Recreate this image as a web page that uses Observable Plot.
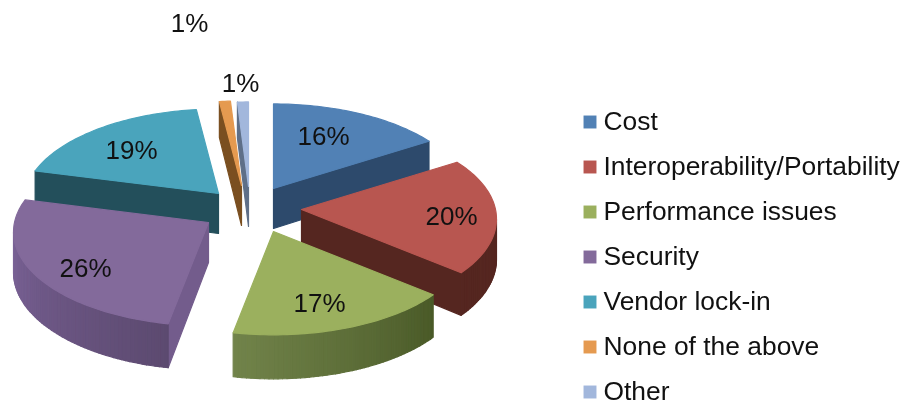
<!DOCTYPE html>
<html><head><meta charset="utf-8">
<style>html,body{margin:0;padding:0;background:#fff}svg{display:block;filter:blur(.6px)}</style>
<script src="https://cdn.jsdelivr.net/npm/d3@7"></script>
<script src="https://cdn.jsdelivr.net/npm/@observablehq/plot@0.6"></script>
</head><body><div id="chart"></div>
<script>
// data
const categories = ["Cost","Interoperability/Portability","Performance issues","Security","Vendor lock-in","None of the above","Other"];
const values = [16,20,17,26,19,1,1];
// styles
const topColors  = ["#5181b5","#b85650","#9bb05e","#836a9b","#4aa4bc","#e59a50","#a2b7dc"];
const wallStart  = ["#2d4a6c","#552620","#4a5a28","#5c4a70","#234f5b","#7a4f20","#5e6f88"];
const wallEnd    = ["#2d4a6c","#552620","#71834a","#7a6296","#234f5b","#7a4f20","#5e6f88"];
const cutColors  = ["#2d4a6c","#552620","#4a5a28","#735c8c","#234f5b","#7a4f20","#5e6f88"];
// layout: exploded tip of each slice, drawing order, label shifts from the tip
const tipX = [273,301,273,208,218,241,248];
const tipY = [188,209,231,222,193,185,186];
const paintOrder = [5,6,0,4,1,3,2];
const labelDX = [50,150,46,-123,-87,-52,-8];
const labelDY = [-52,7,72,46,-43,-162,-103];
const rx = 194, ry = 93, persp = 0.1, depth = 40;
const legendTop = 121.5, legendStep = 45, legendBoxX = 589.5, legendTextX = 603;

// geometry of a rim point, from the share of the pie
const rim = (i, a) => {
  const X = Math.sin(a), Y = Math.cos(a), s = 1 + persp * Y;
  return [tipX[i] + rx * X / s, tipY[i] - ry * Y / s, depth * (1 - persp * Y)];
};
const total = d3.sum(values);
const cum = d3.cumsum(values);
const polys = [];
let id = 0;
const add = (pts, col) => { id++; pts.forEach(p => polys.push({id, x:p[0], y:p[1], col})); };
const mix = (a,b,t) => d3.interpolateRgb(a,b)(t);
for (const i of paintOrder) {
  const a0 = (cum[i]-values[i]) / total * 2*Math.PI, a1 = cum[i] / total * 2*Math.PI;
  const n = Math.max(4, Math.round(values[i]*3));
  const arc = d3.range(n+1).map(k => rim(i, a0 + (a1-a0)*k/n));
  const tip = [tipX[i], tipY[i], depth];
  const wall = (P,Q,col) => add([[P[0],P[1]],[Q[0],Q[1]],[Q[0],Q[1]+Q[2]],[P[0],P[1]+P[2]]], col);
  // only walls that run leftward on screen face the viewer
  if (arc[0][0] < tip[0]) wall(tip, arc[0], cutColors[i]);
  const vis = d3.range(n).filter(k => arc[k+1][0] < arc[k][0]);
  vis.forEach((k,j) => wall(arc[k], arc[k+1], mix(wallStart[i], wallEnd[i], vis.length>1 ? j/(vis.length-1) : 0)));
  if (tip[0] < arc[n][0]) wall(arc[n], tip, cutColors[i]);
  add([[tip[0],tip[1]], ...arc.map(p => [p[0],p[1]])], topColors[i]);
}
const labels = values.map((v,i) => ({t:`${v}%`, x:tipX[i]+labelDX[i], y:tipY[i]+labelDY[i]}));
const legend = categories.map((c,i) => ({c, col:topColors[i], y:legendTop + i*legendStep}));

const chart = Plot.plot({
  width:902, height:405, margin:0,
  x:{domain:[0,902], range:[0,902], axis:null},
  y:{domain:[0,405], range:[0,405], axis:null},
  color:{type:"identity"},
  style:{background:"#fff", fontFamily:"'Liberation Sans',Arial,sans-serif"},
  marks:[
    Plot.line(polys,{x:"x",y:"y",z:"id",fill:"col",stroke:"col",strokeWidth:1.2,curve:"linear-closed"}),
    Plot.text(labels,{x:"x",y:"y",text:"t",fontSize:26,fill:"#111",textAnchor:"middle"}),
    Plot.dot(legend,{x:legendBoxX,y:"y",symbol:"square",r:7.3,fill:"col",stroke:null}),
    Plot.text(legend,{x:legendTextX,y:"y",text:"c",fontSize:26.4,fill:"#111",textAnchor:"start"})
  ]
});
document.getElementById("chart").append(chart);
</script></body></html>
